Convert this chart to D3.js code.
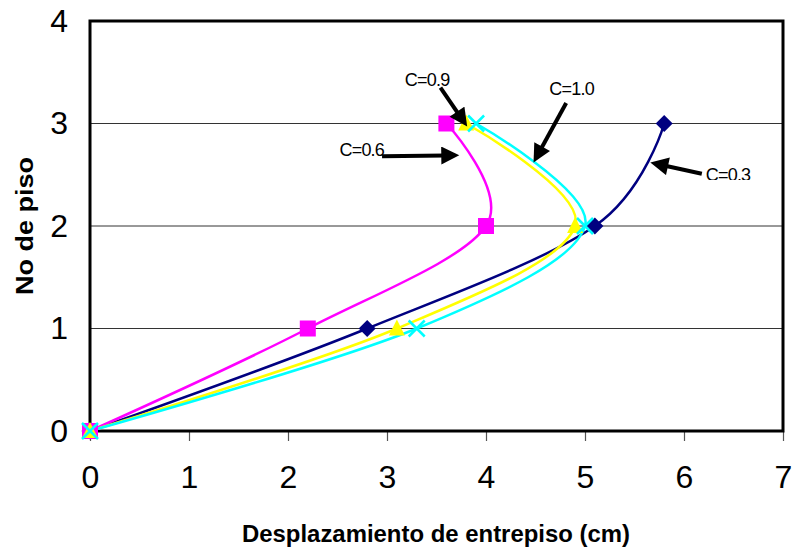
<!DOCTYPE html>
<html>
<head>
<meta charset="utf-8">
<script src="https://cdn.jsdelivr.net/npm/d3@7/dist/d3.min.js"></script>
<style>
  html, body { margin: 0; padding: 0; background: #fff; }
  svg { display: block; font-family: "Liberation Sans", Arial, sans-serif; }
</style>
</head>
<body>
<svg id="chart" width="794" height="550"></svg>
<script>
// Storey drift profiles for several coefficients C
const floors = [0, 1, 2, 3];
const driftC03 = [0, 2.8, 5.1, 5.8];
const driftC06 = [0, 2.2, 4.0, 3.6];
const driftC09 = [0, 3.1, 4.9, 3.8];
const driftC10 = [0, 3.3, 5.0, 3.9];
const seriesNames = ["C=0.3", "C=0.6", "C=0.9", "C=1.0"];
const xTicks = [0, 1, 2, 3, 4, 5, 6, 7];
const yTicks = [0, 1, 2, 3, 4];
const xTitle = "Desplazamiento de entrepiso (cm)";
const yTitle = "No de piso";

// Callout labels with arrows, in data units: label position, arrow tail, arrow tip
const calloutText = ["C=0.9", "C=1.0", "C=0.6", "C=0.3"];
const calloutLabel = [[3.18, 3.37], [4.64, 3.28], [2.52, 2.68], [6.22, 2.44]];
const calloutTail = [[3.54, 3.35], [4.81, 3.20], [2.95, 2.68], [6.18, 2.51]];
const calloutTip = [[3.81, 2.97], [4.48, 2.62], [3.73, 2.69], [5.66, 2.62]];

const colors = ["#000080", "#ff00ff", "#ffff00", "#00ffff"];
const shapes = ["diamond", "square", "triangle", "cross"];
const drifts = [driftC03, driftC06, driftC09, driftC10];

const svg = d3.select("#chart");
const plotLeft = 90, plotRight = 783, plotTop = 21, plotBottom = 431;

const x = d3.scaleLinear().domain([0, 7]).range([plotLeft, plotRight]);
const y = d3.scaleLinear().domain([0, 4]).range([plotBottom, plotTop]);

// horizontal gridlines
svg.append("g")
  .selectAll("line")
  .data(yTicks.filter(t => t > 0 && t < 4))
  .join("line")
  .attr("x1", plotLeft).attr("x2", plotRight)
  .attr("y1", d => y(d)).attr("y2", d => y(d))
  .attr("stroke", "#333").attr("stroke-width", 1);

// x axis with ticks below
const xAxis = svg.append("g")
  .attr("transform", `translate(0,${plotBottom})`)
  .call(d3.axisBottom(x).tickValues(xTicks).tickSize(10).tickPadding(24).tickFormat(d3.format("d")));
xAxis.select(".domain").remove();
xAxis.selectAll(".tick line").attr("stroke", "#555").attr("stroke-width", 1.2);
xAxis.selectAll(".tick text")
  .attr("font-size", 32).attr("fill", "#000")
  .attr("font-family", "Liberation Sans, Arial, sans-serif");

// y axis labels, no tick marks
const yAxis = svg.append("g")
  .attr("transform", `translate(${plotLeft},0)`)
  .call(d3.axisLeft(y).tickValues(yTicks).tickSize(0).tickPadding(22).tickFormat(d3.format("d")));
yAxis.select(".domain").remove();
yAxis.selectAll(".tick text")
  .attr("font-size", 32).attr("fill", "#000")
  .attr("font-family", "Liberation Sans, Arial, sans-serif");

// plot frame
svg.append("rect")
  .attr("x", plotLeft).attr("y", plotTop)
  .attr("width", plotRight - plotLeft).attr("height", plotBottom - plotTop)
  .attr("fill", "none").attr("stroke", "#000").attr("stroke-width", 3);

// smoothed series lines
const line = d3.line()
  .x(d => x(d[0])).y(d => y(d[1]))
  .curve(d3.curveCatmullRom.alpha(0));

const seriesG = svg.append("g");
drifts.forEach((vals, i) => {
  const pts = vals.map((v, k) => [v, floors[k]]);
  seriesG.append("path")
    .attr("d", line(pts))
    .attr("fill", "none")
    .attr("stroke", colors[i])
    .attr("stroke-width", 2.5);
});

// markers
drifts.forEach((vals, i) => {
  const g = seriesG.append("g");
  vals.forEach((v, k) => {
    const cx = x(v), cy = y(floors[k]);
    const m = g.append("g").attr("transform", `translate(${cx},${cy})`);
    if (shapes[i] === "diamond") {
      m.append("rect").attr("x", -6).attr("y", -6).attr("width", 12).attr("height", 12)
        .attr("transform", "rotate(45)").attr("fill", colors[i]);
    } else if (shapes[i] === "square") {
      m.append("rect").attr("x", -8).attr("y", -8).attr("width", 16).attr("height", 16)
        .attr("fill", colors[i]);
    } else if (shapes[i] === "triangle") {
      m.append("path").attr("d", "M0,-9L8,7L-8,7Z").attr("fill", colors[i]);
    } else {
      m.append("path").attr("d", "M-8,-8L8,8M-8,8L8,-8")
        .attr("stroke", colors[i]).attr("stroke-width", 2.5).attr("fill", "none");
    }
  });
});

// callout arrows and labels
const defs = svg.append("defs");
defs.append("marker")
  .attr("id", "arrowHead")
  .attr("viewBox", "0 0 10 10")
  .attr("refX", 10).attr("refY", 5)
  .attr("markerUnits", "userSpaceOnUse")
  .attr("markerWidth", 19).attr("markerHeight", 18)
  .attr("orient", "auto")
  .append("path").attr("d", "M0,0L10,5L0,10Z").attr("fill", "#000");
defs.append("clipPath").attr("id", "calloutClip")
  .append("rect").attr("x", 0).attr("y", 0).attr("width", 794).attr("height", 180);

const callouts = svg.append("g");
calloutText.forEach((t, i) => {
  const [tx, ty] = calloutTail[i];
  const [hx, hy] = calloutTip[i];
  const dx = x(hx) - x(tx), dy = y(hy) - y(ty);
  const len = Math.hypot(dx, dy);
  callouts.append("line")
    .attr("x1", x(tx)).attr("y1", y(ty))
    .attr("x2", x(hx) - dx / len * 14).attr("y2", y(hy) - dy / len * 14)
    .attr("stroke", "#000").attr("stroke-width", 4);
  callouts.append("line")
    .attr("x1", x(hx) - dx / len * 16).attr("y1", y(hy) - dy / len * 16)
    .attr("x2", x(hx)).attr("y2", y(hy))
    .attr("stroke", "#000").attr("stroke-width", 0.01)
    .attr("marker-end", "url(#arrowHead)");
  callouts.append("text")
    .attr("x", x(calloutLabel[i][0])).attr("y", y(calloutLabel[i][1]))
    .attr("font-size", 18)
    .attr("letter-spacing", -0.8)
    .attr("fill", "#000")
    .attr("clip-path", t === "C=0.3" ? "url(#calloutClip)" : null)
    .text(t);
});

// axis titles
svg.append("text")
  .attr("x", 436).attr("y", 542)
  .attr("text-anchor", "middle")
  .attr("font-size", 24).attr("font-weight", "bold")
  .attr("textLength", 388).attr("lengthAdjust", "spacingAndGlyphs")
  .text(xTitle);

svg.append("text")
  .attr("transform", "translate(33,226) rotate(-90)")
  .attr("text-anchor", "middle")
  .attr("font-size", 23).attr("font-weight", "bold")
  .attr("textLength", 138).attr("lengthAdjust", "spacingAndGlyphs")
  .text(yTitle);
</script>
</body>
</html>
